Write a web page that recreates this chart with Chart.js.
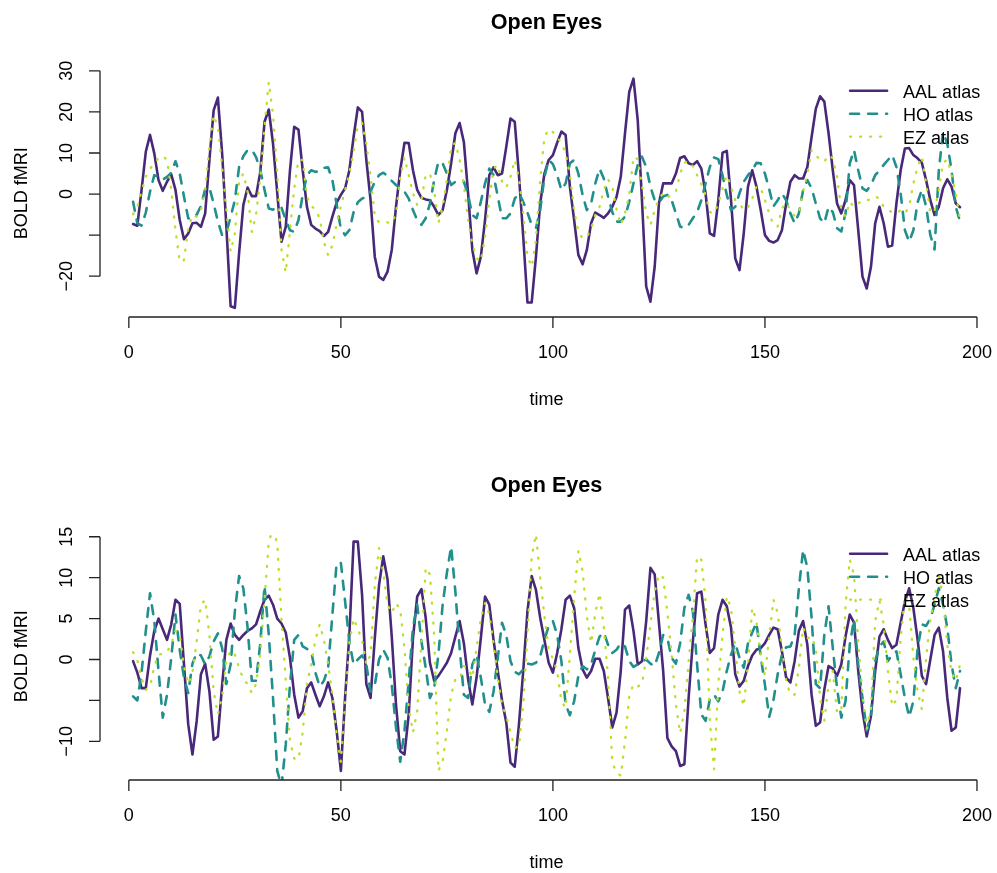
<!DOCTYPE html>
<html>
<head>
<meta charset="utf-8">
<title>Open Eyes</title>
<script src="https://cdn.jsdelivr.net/npm/chart.js@4.4.1/dist/chart.umd.min.js"></script>
<style>
  body { margin: 0; background: #fff; }
  canvas { position: absolute; left: 0; }
</style>
</head>
<body>
<canvas id="topChart" width="997" height="436" style="top:0"></canvas>
<canvas id="bottomChart" width="997" height="410" style="top:463px"></canvas>
<script>
// time points (scan index)
const timePoints = Array.from({ length: 196 }, (_, i) => i + 1);

const seriesNames = ['AAL atlas', 'HO atlas', 'EZ atlas'];
const seriesColors = ['#482878', '#21908C', '#BBDF27'];

const xTicks = [0, 50, 100, 150, 200];
const topYTicks = [-20, -10, 0, 10, 20, 30];
const topYLabels = ['\u221220', '', '0', '10', '20', '30'];
const bottomYTicks = [-10, -5, 0, 5, 10, 15];
const bottomYLabels = ['\u221210', '', '0', '5', '10', '15'];

// upper panel
const topAAL = [
  -7.3, -7.7, 1.0, 10.3, 14.4, 9.9, 3.4, 0.8, 3.0, 4.8,
  1.0, -6.3, -11.0, -9.6, -7.1, -7.0, -8.0, -4.7, 8.3, 20.4,
  23.5, 9.9, -8.0, -27.3, -27.7, -14.4, -2.7, 1.6, -0.5, -0.5,
  5.4, 17.6, 20.6, 12.3, 0.2, -11.6, -8.0, 5.8, 16.4, 15.7,
  5.8, -3.1, -7.5, -8.4, -9.0, -10.2, -9.2, -5.5, -2.1, -0.2,
  1.4, 5.8, 13.9, 21.1, 20.0, 8.3, -1.5, -15.3, -20.1, -20.9,
  -18.9, -13.6, -3.1, 5.8, 12.5, 12.4, 5.8, 1.0, -0.9, -1.3,
  -1.5, -3.1, -5.1, -3.9, 1.0, 7.5, 14.8, 17.3, 12.7, 0.2,
  -13.6, -19.3, -15.3, -6.3, 4.6, 6.5, 4.6, 5.0, 11.5, 18.4,
  17.6, 4.5, -10.4, -26.4, -26.4, -15.3, -2.3, 5.0, 8.3, 9.5,
  12.5, 15.2, 14.4, 1.8, -6.3, -14.8, -17.1, -13.6, -7.1, -4.5,
  -5.1, -5.8, -4.7, -3.1, -0.7, 4.2, 14.8, 24.9, 28.1, 18.0,
  -1.5, -22.5, -26.2, -17.7, -2.3, 2.6, 2.6, 2.6, 5.0, 8.8,
  9.2, 7.5, 7.1, 8.0, 6.2, 0.2, -9.6, -10.2, -1.5, 10.1,
  10.5, -1.5, -15.7, -18.5, -9.6, 1.8, 5.8, 1.8, -3.9, -10.0,
  -11.4, -11.8, -11.2, -8.8, -2.3, 3.0, 4.6, 3.8, 3.8, 6.6,
  13.9, 20.8, 23.8, 22.5, 14.8, 5.8, -2.3, -4.7, -1.5, 3.4,
  2.2, -8.8, -20.1, -23.0, -17.7, -7.1, -3.1, -7.1, -12.8, -12.5,
  -2.3, 5.8, 11.1, 11.2, 9.5, 8.7, 7.6, 3.4, -1.5, -5.1,
  -3.1, 1.4, 3.6, 1.8, -2.3, -3.2
];
const topHO = [
  -1.9, -7.1, -7.7, -4.5, 0.6, 4.6, 4.2, 3.5, 4.2, 5.2,
  8.0, 5.0, -0.6, -5.9, -6.0, -5.0, -2.9, 1.2, 1.6, -2.3,
  -6.7, -10.0, -9.3, -5.6, -1.5, 6.6, 9.2, 10.7, 10.8, 9.0,
  5.8, 1.0, -3.5, -3.8, -3.1, -3.3, -6.3, -8.8, -9.2, -6.3,
  -0.2, 4.6, 5.8, 5.4, 5.6, 6.4, 6.5, 3.4, -2.5, -8.5,
  -10.0, -8.8, -4.4, -2.0, -1.1, -0.7, 0.6, 3.0, 4.6, 5.2,
  4.4, 3.2, 2.2, 1.4, 0.6, -1.1, -3.9, -6.3, -7.5, -5.9,
  -2.3, 3.4, 7.9, 7.5, 5.0, 2.2, 3.0, 3.2, 3.0, -0.2,
  -5.1, -5.9, -1.9, 2.6, 6.2, 4.6, -0.6, -5.9, -5.9, -4.7,
  -1.1, 0.2, -1.9, -4.5, -7.5, -8.3, -3.9, 4.2, 8.3, 7.3,
  4.6, 1.0, 2.6, 7.5, 8.3, 5.0, -0.2, -3.9, -2.3, 2.6,
  6.2, 3.8, -0.6, -4.4, -6.7, -6.7, -5.5, -1.9, 2.6, 7.1,
  9.1, 6.6, 1.8, -1.5, -2.1, -0.6, -0.2, -1.5, -4.7, -7.9,
  -8.3, -7.5, -5.9, -4.4, -1.5, 2.6, 6.6, 8.9, 8.5, 4.6,
  -0.2, -3.9, -3.1, 0.2, 3.0, 4.6, 5.8, 7.6, 7.5, 5.0,
  1.2, -3.0, -1.5, 0.2, -1.5, -4.7, -7.1, -4.7, 1.0, 3.4,
  1.4, -2.3, -5.9, -7.1, -3.1, -4.4, -8.3, -9.1, -4.7, 7.5,
  10.7, 5.8, 1.4, 0.8, 2.2, 4.6, 5.8, 7.1, 8.3, 9.5,
  6.6, 0.2, -8.8, -11.6, -8.8, -2.0, 1.0, -3.0, -10.0, -13.5,
  5.8, 15.1, 12.3, 5.8, -3.1, -6.7
];
const topEZ = [
  -4.9, -3.1, 0.6, 4.2, 6.2, 7.5, 8.7, 9.3, 8.3, 1.0,
  -8.8, -16.5, -16.1, -8.4, -5.1, -5.5, -3.9, 1.0, 11.5, 19.2,
  16.4, 6.6, -3.9, -14.0, -9.6, 3.0, 5.0, 0.6, -9.2, -5.1,
  3.8, 16.4, 27.3, 19.2, 5.0, -13.6, -19.1, -8.8, 1.4, 8.3,
  8.3, -0.6, -2.9, -3.7, -5.9, -11.6, -14.9, -12.4, -7.3, -3.0,
  1.0, 5.0, 10.3, 16.8, 17.3, 12.3, 4.6, -5.5, -6.9, -6.9,
  -6.9, -7.1, -4.9, 4.2, 8.9, 4.6, 0.2, -2.7, -1.5, 4.6,
  5.0, 1.0, -7.1, -3.1, 3.4, 11.5, 12.5, 8.3, 2.2, -6.3,
  -12.0, -15.6, -16.4, -10.4, -1.5, 6.2, 7.1, 3.0, 1.6, 4.2,
  8.3, 3.8, -4.7, -15.2, -17.7, -11.2, 3.4, 13.9, 15.8, 15.1,
  13.8, 12.5, 9.9, 4.6, -3.9, -9.2, -10.8, -10.5, -8.4, -5.1,
  -3.1, 1.0, 3.6, 1.8, -3.7, -7.5, -4.7, -0.2, 9.1, 8.5,
  2.2, -4.7, -7.5, -3.9, -1.1, 0.2, -0.8, -0.2, 0.6, 5.0,
  7.6, 8.1, 6.8, 4.6, 2.4, -0.2, -4.4, -4.7, -2.3, 1.4,
  4.6, 1.8, -1.5, -2.3, -3.9, -3.3, -1.1, 1.9, 1.4, -1.5,
  -4.7, -7.5, -7.9, -3.5, -2.1, -3.9, -5.3, -4.7, 0.6, 5.0,
  10.7, 9.5, 8.3, 7.9, 9.5, 8.7, 4.2, -3.7, -5.5, -1.9,
  -3.1, -2.3, -1.5, -1.5, -1.3, -0.6, -1.1, -3.1, -3.9, -4.4,
  -4.7, -3.9, -4.7, -3.1, 2.6, 6.6, 9.1, 2.6, -4.7, -3.9,
  1.0, 7.5, 8.5, 4.6, 0.2, -6.2
];

// lower panel
const bottomAAL = [
  -0.2, -1.6, -3.5, -3.5, 0.5, 3.5, 5.0, 3.7, 2.4, 4.3,
  7.3, 6.8, -0.6, -7.9, -11.6, -7.5, -1.8, -0.5, -3.9, -9.8,
  -9.4, -3.1, 2.4, 4.4, 3.0, 2.4, 3.0, 3.5, 3.8, 4.3,
  5.9, 7.3, 7.8, 6.7, 5.0, 4.4, 3.3, 0.2, -4.3, -7.1,
  -6.3, -3.5, -2.8, -4.3, -5.7, -4.5, -2.8, -4.7, -8.7, -13.6,
  -4.6, 3.0, 14.4, 14.4, 7.9, -3.0, -4.7, 2.6, 9.1, 12.6,
  9.8, 2.8, -5.5, -11.2, -11.6, -6.7, 2.6, 7.7, 8.6, 5.1,
  -0.4, -2.6, -2.0, -1.2, -0.4, 0.8, 2.8, 4.7, 2.0, -2.4,
  -5.5, -2.2, 2.6, 7.7, 6.7, 2.4, -1.4, -5.0, -7.7, -12.6,
  -13.1, -7.9, -1.4, 5.9, 10.2, 8.5, 5.1, 2.4, -0.4, -1.6,
  0.8, 3.7, 7.3, 7.8, 6.3, 1.4, -1.2, -2.2, -1.4, 0.1,
  0.1, -1.4, -4.7, -8.3, -6.5, -1.4, 6.1, 6.6, 3.5, -0.6,
  -0.2, 4.7, 11.2, 10.4, 4.5, -1.4, -9.6, -10.6, -11.2, -13.0,
  -12.8, -4.7, 2.2, 8.1, 8.3, 4.3, 0.8, 1.4, 5.5, 7.3,
  6.5, 3.9, -1.8, -3.3, -2.6, -0.8, 0.5, 1.2, 1.4, 2.0,
  3.0, 3.9, 3.7, 1.0, -2.2, -2.8, -0.2, 3.5, 4.7, 1.8,
  -4.3, -8.1, -7.7, -3.7, -0.8, -1.1, -2.0, -0.6, 2.8, 5.5,
  4.5, -1.4, -6.3, -9.4, -6.9, -1.4, 2.8, 3.7, 2.4, 1.4,
  1.8, 4.5, 7.1, 8.7, 6.3, 2.4, -2.0, -3.0, 0.0, 3.0,
  3.9, 1.0, -4.7, -8.7, -8.3, -3.5
];
const bottomHO = [
  -4.5, -5.0, -1.6, 3.5, 8.1, 4.7, -1.4, -7.1, -4.3, 0.2,
  5.5, 1.2, -2.2, -4.1, -0.5, 0.8, 0.5, -0.6, 0.4, 2.2,
  3.2, 1.4, -3.0, -0.6, 5.9, 10.2, 8.7, 3.9, -2.6, -2.6,
  2.0, 9.0, 3.0, -4.7, -13.6, -15.5, -10.4, -3.1, 2.4, 3.0,
  1.6, 1.3, 1.0, -1.6, -3.3, -2.6, -1.0, 5.5, 11.8, 11.8,
  7.1, 2.2, -0.6, 0.0, 0.5, -0.6, -3.9, -3.1, 0.0, 1.2,
  0.2, -3.1, -8.3, -12.5, -8.7, -2.6, 3.9, 6.7, 2.2, -1.0,
  -4.7, -3.5, 0.6, 6.7, 10.6, 13.8, 8.3, 1.4, -4.3, -4.7,
  -0.6, 0.6, -2.2, -5.5, -6.4, -3.9, 0.2, 4.5, 3.0, -0.2,
  -1.5, -1.8, -1.2, -0.5, -0.6, -0.4, 0.4, 2.4, 4.1, 4.7,
  3.0, -0.2, -5.5, -6.8, -5.1, -2.0, -0.8, -1.2, -0.6, 1.2,
  2.8, 3.3, 1.8, 0.8, 1.2, 2.0, 1.6, -0.2, -0.9, -0.6,
  -0.2, 0.0, -0.5, -0.8, 0.8, 3.0, 2.6, 0.2, -0.5, 2.0,
  6.3, 7.9, 5.9, -0.6, -6.7, -7.5, -4.9, -4.3, -5.1, -3.9,
  -1.4, 0.6, 2.0, 0.2, -1.0, 2.0, 3.3, 4.5, 0.4, -3.1,
  -7.0, -5.0, -1.8, 0.6, 1.5, 1.6, 3.0, 8.7, 13.4, 11.2,
  5.1, -3.0, -3.5, 3.0, 6.5, 1.4, -3.5, -7.1, -5.1, 1.8,
  4.9, -0.6, -4.7, -8.7, -6.7, -0.2, 1.6, 2.2, -0.2, 0.6,
  1.0, -1.8, -4.7, -7.0, -5.1, 1.4, 4.3, 4.1, 5.0, 6.7,
  8.7, 6.7, 3.9, -0.6, -3.5, -1.4
];
const bottomEZ = [
  0.9, -0.1, -2.3, -3.7, -3.3, -0.8, 0.6, 0.7, 0.9, 1.9,
  3.5, 3.0, -0.8, -3.0, -1.6, 2.2, 6.7, 7.3, 3.0, -3.9,
  -6.7, -4.5, -0.2, 1.1, 0.6, -1.0, -2.4, -3.0, -4.1, -3.0,
  0.8, 7.3, 14.4, 16.0, 14.2, 4.9, -2.6, -10.0, -12.1, -12.2,
  -8.9, -3.0, -0.6, 2.4, 4.3, 2.4, -0.6, -4.3, -9.1, -12.5,
  -5.1, 2.0, 5.0, 3.7, 2.4, -0.6, 0.6, 9.1, 13.6, 10.6,
  6.7, 5.7, 6.9, 6.1, 1.4, -5.9, -8.9, -6.3, 2.2, 11.2,
  10.4, 3.0, -13.6, -12.4, -8.7, -4.3, -2.4, -2.4, -0.8, -1.0,
  -2.2, 1.4, 5.0, 6.9, 5.5, 2.0, -2.2, -5.5, -6.9, -8.9,
  -10.8, -10.6, -5.5, 3.0, 12.6, 15.3, 10.0, 5.3, 1.3, 0.1,
  -1.4, -5.1, -5.9, 0.6, 7.5, 13.3, 10.8, 5.3, 2.0, 5.7,
  8.1, 3.9, -2.2, -12.6, -13.8, -14.2, -10.0, -4.5, -3.0, -3.3,
  -3.0, 0.2, 4.3, 8.3, 10.4, 10.0, 5.7, 0.6, -5.5, -9.0,
  -6.3, -0.2, 5.3, 12.6, 12.2, 7.1, -7.5, -13.4, -3.0, 3.0,
  7.7, 6.3, 1.4, -3.9, -5.7, -0.6, 6.3, 4.7, 0.6, -2.0,
  2.8, 7.3, 5.7, 1.4, -2.6, -4.3, -4.3, -1.0, 3.9, 2.6,
  2.8, 1.4, -4.7, -7.5, -3.0, -1.4, -6.5, -6.3, 6.7, 12.2,
  10.4, 2.2, -4.3, -8.5, -5.9, 4.7, 7.2, 4.3, -1.4, -5.7,
  -4.9, 2.6, 7.7, 6.7, 0.2, -3.9, -6.1, 0.2, 4.9, 7.5,
  10.4, 7.5, 1.8, -1.6, -2.6, -0.6
];

const FONT = '"Liberation Sans", Arial, Helvetica, sans-serif';
const lineDash = [[], [9, 9], [1, 9]];
const lineWidth = [2.6, 2.6, 2.3];

// base-graphics style limits: data range stretched 4% each side
const padRange = (vals) => {
  const lo = Math.min(...vals), hi = Math.max(...vals), pad = (hi - lo) * 0.04;
  return [lo - pad, hi + pad];
};

// axes, labels, title and legend drawn the way plot() + legend() lay them out
const baseAxes = {
  id: 'baseAxes',
  afterDraw(chart, args, opts) {
    const { ctx, chartArea: area, scales: { x, y } } = chart;
    ctx.save();
    ctx.strokeStyle = '#222';
    ctx.fillStyle = '#000';
    ctx.lineWidth = 1.3;
    ctx.font = `18px ${FONT}`;

    // x axis
    const xs = xTicks.map(v => x.getPixelForValue(v));
    ctx.beginPath();
    ctx.moveTo(xs[0], area.bottom);
    ctx.lineTo(xs[xs.length - 1], area.bottom);
    xs.forEach(px => { ctx.moveTo(px, area.bottom); ctx.lineTo(px, area.bottom + 11); });
    // y axis
    const ys = opts.yTicks.map(v => y.getPixelForValue(v));
    ctx.moveTo(area.left, ys[0]);
    ctx.lineTo(area.left, ys[ys.length - 1]);
    ys.forEach(py => { ctx.moveTo(area.left, py); ctx.lineTo(area.left - 11, py); });
    ctx.stroke();

    ctx.textAlign = 'center';
    ctx.textBaseline = 'alphabetic';
    xTicks.forEach((v, i) => ctx.fillText(String(v), xs[i], area.bottom + 41));
    ctx.fillText('time', (area.left + area.right) / 2, area.bottom + 88);

    const rotated = (text, bx, cy) => {
      ctx.save();
      ctx.translate(bx, cy);
      ctx.rotate(-Math.PI / 2);
      ctx.fillText(text, 0, 0);
      ctx.restore();
    };
    opts.yLabels.forEach((lab, i) => { if (lab) rotated(lab, area.left - 28, ys[i]); });
    rotated('BOLD fMRI', area.left - 73, (area.top + area.bottom) / 2);

    ctx.font = `bold 21.6px ${FONT}`;
    ctx.fillText(opts.title, (area.left + area.right) / 2, area.top - 40.5);

    // legend, top right, no box
    ctx.font = `18px ${FONT}`;
    ctx.textAlign = 'left';
    ctx.lineCap = 'round';
    seriesNames.forEach((name, i) => {
      const ly = area.top + 21.2 + i * 23;
      ctx.beginPath();
      ctx.strokeStyle = seriesColors[i];
      ctx.lineWidth = lineWidth[i];
      ctx.setLineDash(lineDash[i]);
      ctx.moveTo(area.right - 143, ly);
      ctx.lineTo(area.right - 106, ly);
      ctx.stroke();
      ctx.setLineDash([]);
      ctx.fillText(name, area.right - 90, ly + 7.5);
    });
    ctx.restore();
  }
};

const drawPanel = (canvasId, series, yTicks, yLabels) => {
  const canvas = document.getElementById(canvasId);
  const xRange = padRange(timePoints);
  const yRange = padRange(series[0]);
  const datasets = series.map((vals, i) => ({
    label: seriesNames[i],
    data: vals.map((v, k) => ({ x: timePoints[k], y: v })),
    borderColor: seriesColors[i],
    borderWidth: lineWidth[i],
    borderDash: lineDash[i],
    borderCapStyle: 'round',
    borderJoinStyle: 'round',
    pointRadius: 0,
    tension: 0,
    fill: false,
    clip: 0,
    order: 3 - i, // first series underneath, like lines() added later
  }));

  return new Chart(canvas.getContext('2d'), {
    type: 'line',
    data: { datasets },
    options: {
      responsive: false,
      animation: false,
      devicePixelRatio: 1,
      events: [],
      layout: { padding: { left: 100, right: 3.9, top: 69.5, bottom: canvas.height - 317 } },
      scales: {
        x: { type: 'linear', min: xRange[0], max: xRange[1], display: false },
        y: { type: 'linear', min: yRange[0], max: yRange[1], display: false },
      },
      plugins: {
        legend: { display: false },
        tooltip: { enabled: false },
        baseAxes: { yTicks, yLabels, title: 'Open Eyes' },
      },
    },
    plugins: [baseAxes],
  });
};

drawPanel('topChart', [topAAL, topHO, topEZ], topYTicks, topYLabels);
drawPanel('bottomChart', [bottomAAL, bottomHO, bottomEZ], bottomYTicks, bottomYLabels);
</script>
</body>
</html>
